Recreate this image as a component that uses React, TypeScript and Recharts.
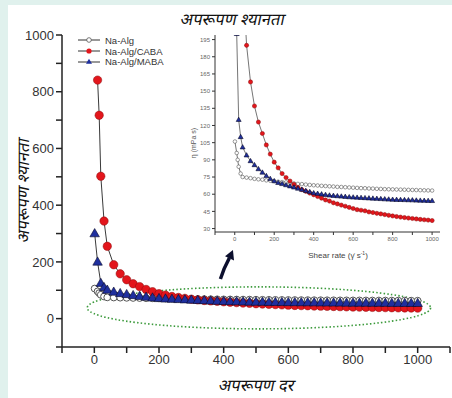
import React from "react";
import { LineChart, Line, XAxis, YAxis, Legend, ReferenceArea, ReferenceDot } from "recharts";

// shear rate (1/s) and viscosity (mPa s)
const shearRate = [
  1, 10, 15, 20, 30, 40, 60, 80, 100, 120, 140, 160, 180, 200, 220, 240, 260, 280, 300, 320, 340, 360,
  380, 400, 420, 440, 460, 480, 500, 520, 540, 560, 580, 600, 620, 640, 660, 680, 700, 720, 740, 760,
  780, 800, 820, 840, 860, 880, 900, 920, 940, 960, 980, 1000,
];
const naAlg = [
  106, 96, 90, 84, 78, 75, 74.5, 74, 73.4, 73, 72.7, 72.1, 71.8, 71.4, 70.9, 70.6, 70.3, 69.8, 69.4, 69,
  68.8, 68.4, 68.1, 67.8, 67.6, 67.3, 67.1, 66.9, 66.7, 66.4, 66.3, 66.1, 65.9, 65.7, 65.5, 65.3, 65.2,
  65, 64.9, 64.7, 64.6, 64.4, 64.3, 64.2, 64.1, 64, 63.9, 63.8, 63.7, 63.6, 63.5, 63.4, 63.3, 63.2,
];
const naAlgCaba = [
  null, 841, 717, 502, 344, 255, 190, 158, 137, 123, 113, 103, 95, 88, 83, 78, 74.5, 71.5, 68.5, 66, 64,
  62.5, 61, 59.5, 58, 56.5, 55, 54, 52.5, 51.5, 50.5, 49.5, 48.5, 47.5, 46.5, 46, 45.5, 44.5, 44, 43.3,
  42.8, 42.2, 41.6, 41, 40.5, 40, 39.6, 39.2, 38.8, 38.4, 38, 37.7, 37.4, 37,
];
const naAlgMaba = [
  300, 200, null, 125, 110, 101, 94, 89, 85.5, 82, 79, 76, 73.5, 71.5, 70, 69, 68, 67, 66, 65, 64, 63,
  62, 61, 60.5, 60, 59.5, 59, 58.7, 58.4, 58.1, 57.8, 57.5, 57.3, 57.1, 56.9, 56.7, 56.5, 56.3, 56.1,
  55.9, 55.7, 55.5, 55.3, 55.2, 55.1, 55, 54.9, 54.8, 54.6, 54.5, 54.4, 54.3, 54.2,
];

const seriesNames = ["Na-Alg", "Na-Alg/CABA", "Na-Alg/MABA"];
const mainXTicks = [-100, 0, 100, 200, 300, 400, 500, 600, 700, 800, 900, 1000, 1100];
const mainYTicks = [-100, 0, 100, 200, 300, 400, 500, 600, 700, 800, 900, 1000];
const insetXTicks = [-100, 0, 100, 200, 300, 400, 500, 600, 700, 800, 900, 1000];
const insetYTicks = [30, 45, 60, 75, 90, 105, 120, 135, 150, 165, 180, 195];

const titleText = "अपरूपण श्यानता";
const yTitleText = "अपरूपण श्यानता";
const xTitleText = "अपरूपण दर";

const rows = shearRate.map((rate, i) => ({
  rate,
  alg: naAlg[i],
  caba: naAlgCaba[i],
  maba: naAlgMaba[i],
}));

const FONT = "Arial, 'Liberation Sans', sans-serif";
const HINDI = "'Noto Sans', 'DejaVu Sans', sans-serif";
const LINE = "#3a3a3a";
const RED = "#e3161c";
const BLUE = "#1f2f9e";

type DotProps = { cx?: number | null; cy?: number | null; index?: number };

function openCircle(r: number, sw: number) {
  return (p: DotProps) =>
    p.cx == null || p.cy == null ? (
      <g key={p.index} />
    ) : (
      <circle key={p.index} cx={p.cx} cy={p.cy} r={r} fill="#fff" stroke="#555" strokeWidth={sw} />
    );
}

function redCircle(r: number) {
  return (p: DotProps) =>
    p.cx == null || p.cy == null ? (
      <g key={p.index} />
    ) : (
      <circle key={p.index} cx={p.cx} cy={p.cy} r={r} fill={RED} stroke="#8a0d0d" strokeWidth={0.5} />
    );
}

function triangle(s: number) {
  return (p: DotProps) =>
    p.cx == null || p.cy == null ? (
      <g key={p.index} />
    ) : (
      <path
        key={p.index}
        d={`M${p.cx},${p.cy - s}L${p.cx + s * 0.95},${p.cy + s * 0.65}L${p.cx - s * 0.95},${p.cy + s * 0.65}Z`}
        fill={BLUE}
        stroke="#0a0a2a"
        strokeWidth={0.6}
      />
    );
}

const legendMarkers = [
  <circle cx={11} cy={5} r={2.3} fill="#fff" stroke="#555" strokeWidth={0.8} />,
  <circle cx={11} cy={5} r={2.6} fill={RED} />,
  <path d="M11,1.8L14,6.8L8,6.8Z" fill={BLUE} />,
];

function LegendBox() {
  return (
    <div style={{ fontFamily: FONT, fontSize: 9.5, color: "#333" }}>
      {seriesNames.map((name, i) => (
        <div key={name} style={{ display: "flex", alignItems: "center", height: 10.7 }}>
          <svg width={22} height={10}>
            <line x1={0} x2={22} y1={5} y2={5} stroke="#333" strokeWidth={1} />
            {legendMarkers[i]}
          </svg>
          <span style={{ marginLeft: 5 }}>{name}</span>
        </div>
      ))}
    </div>
  );
}

const labelEvery200 = (v: number) => (v >= 0 && v % 200 === 0 ? String(v) : "");

function Ellipse(p: { x?: number; y?: number; width?: number; height?: number }) {
  const x = p.x ?? 0;
  const y = p.y ?? 0;
  const w = p.width ?? 0;
  const h = p.height ?? 0;
  return (
    <ellipse
      cx={x + w / 2}
      cy={y + h / 2}
      rx={w / 2}
      ry={h / 2}
      fill="none"
      stroke="#3c9a3c"
      strokeWidth={1.6}
      strokeDasharray="1.5 2.2"
    />
  );
}

function Arrow(p: { cx?: number; cy?: number }) {
  const x = p.cx ?? 0;
  const y = p.cy ?? 0;
  return (
    <g>
      <path d={`M${x},${y} Q${x + 3},${y - 10} ${x + 9},${y - 21}`} fill="none" stroke="#0c0f2e" strokeWidth={3.4} />
      <path d={`M${x + 12.5},${y - 29} L${x + 13.6},${y - 18.5} L${x + 4.6},${y - 22.6} Z`} fill="#0c0f2e" />
    </g>
  );
}

function MainChart() {
  return (
    <LineChart width={452} height={398} data={rows} margin={{ top: 35, right: 2, left: 12, bottom: 21 }}>
      <XAxis
        type="number"
        dataKey="rate"
        domain={[-100, 1100]}
        ticks={mainXTicks}
        tickFormatter={labelEvery200}
        interval={0}
        height={30}
        tickSize={6}
        stroke="#222"
        strokeWidth={1.5}
        tick={{ fill: "#333", fontSize: 13, fontFamily: FONT }}
      />
      <YAxis
        type="number"
        domain={[-100, 1000]}
        ticks={mainYTicks}
        tickFormatter={labelEvery200}
        interval={0}
        width={50}
        tickSize={6}
        stroke="#222"
        strokeWidth={1.5}
        tick={{ fill: "#333", fontSize: 13, fontFamily: FONT }}
      />
      <ReferenceArea x1={-22} x2={1040} y1={-36} y2={112} shape={<Ellipse />} ifOverflow="visible" />
      <ReferenceDot x={390} y={140} shape={<Arrow />} ifOverflow="visible" />
      <Line
        dataKey="alg"
        name={seriesNames[0]}
        stroke={LINE}
        strokeWidth={1}
        dot={openCircle(3.4, 1)}
        connectNulls
        isAnimationActive={false}
      />
      <Line
        dataKey="caba"
        name={seriesNames[1]}
        stroke={LINE}
        strokeWidth={1}
        dot={redCircle(4.2)}
        connectNulls
        isAnimationActive={false}
      />
      <Line
        dataKey="maba"
        name={seriesNames[2]}
        stroke={LINE}
        strokeWidth={1}
        dot={triangle(5)}
        connectNulls
        isAnimationActive={false}
      />
      <Legend
        layout="vertical"
        align="center"
        verticalAlign="middle"
        content={<LegendBox />}
        wrapperStyle={{ left: 78, top: 35, width: 100, height: 33 }}
      />
    </LineChart>
  );
}

function InsetChart() {
  return (
    <LineChart width={265} height={240} data={rows} margin={{ top: 10, right: 5, left: 5, bottom: 13 }}>
      <XAxis
        type="number"
        dataKey="rate"
        domain={[-100, 1040]}
        ticks={insetXTicks}
        tickFormatter={labelEvery200}
        interval={0}
        height={20}
        tickSize={3}
        stroke="#333"
        strokeWidth={1}
        allowDataOverflow
        tick={{ fill: "#666", fontSize: 6, fontFamily: FONT }}
      />
      <YAxis
        type="number"
        domain={[27, 199]}
        ticks={insetYTicks}
        interval={0}
        width={30}
        tickSize={3}
        stroke="#333"
        strokeWidth={1}
        allowDataOverflow
        tick={{ fill: "#666", fontSize: 6, fontFamily: FONT }}
      />
      <Line dataKey="alg" stroke={LINE} strokeWidth={0.7} dot={openCircle(1.8, 0.6)} connectNulls isAnimationActive={false} />
      <Line dataKey="caba" stroke={LINE} strokeWidth={0.7} dot={redCircle(2.1)} connectNulls isAnimationActive={false} />
      <Line dataKey="maba" stroke={LINE} strokeWidth={0.7} dot={triangle(2.6)} connectNulls isAnimationActive={false} />
    </LineChart>
  );
}

const hindiLabel: React.CSSProperties = {
  position: "absolute",
  fontFamily: HINDI,
  fontStyle: "italic",
  fontSize: 16.5,
  color: "#111",
  whiteSpace: "nowrap",
};

export default function App() {
  return (
    <div style={{ position: "fixed", left: 0, top: 0, width: 452, height: 398, background: "#e0f1ed", overflow: "hidden" }}>
      <div style={{ position: "absolute", left: 8, top: 5, right: 0, bottom: 0, background: "#fff" }} />
      <div style={{ position: "absolute", left: 0, top: 0 }}>
        <MainChart />
      </div>
      <div style={{ position: "absolute", left: 180, top: 25 }}>
        <InsetChart />
      </div>
      <div style={{ ...hindiLabel, left: 233, top: 18, transform: "translate(-50%, -50%) skewX(-12deg)" }}>
        {titleText}
      </div>
      <div style={{ ...hindiLabel, left: 257, top: 384, transform: "translate(-50%, -50%) skewX(-12deg)" }}>
        {xTitleText}
      </div>
      <div style={{ ...hindiLabel, left: 22, top: 190, transform: "translate(-50%, -50%) rotate(-90deg) skewX(-12deg)" }}>
        {yTitleText}
      </div>
      <div
        style={{
          position: "absolute",
          left: 193,
          top: 143,
          transform: "translate(-50%, -50%) rotate(-90deg)",
          fontFamily: FONT,
          fontSize: 7,
          color: "#555",
          whiteSpace: "nowrap",
        }}
      >
        η (mPa s)
      </div>
      <div
        style={{
          position: "absolute",
          left: 338,
          top: 255,
          transform: "translate(-50%, -50%)",
          fontFamily: FONT,
          fontSize: 8,
          color: "#444",
          whiteSpace: "nowrap",
        }}
      >
        Shear rate (γ̇ s<sup style={{ fontSize: 5 }}>-1</sup>)
      </div>
    </div>
  );
}
